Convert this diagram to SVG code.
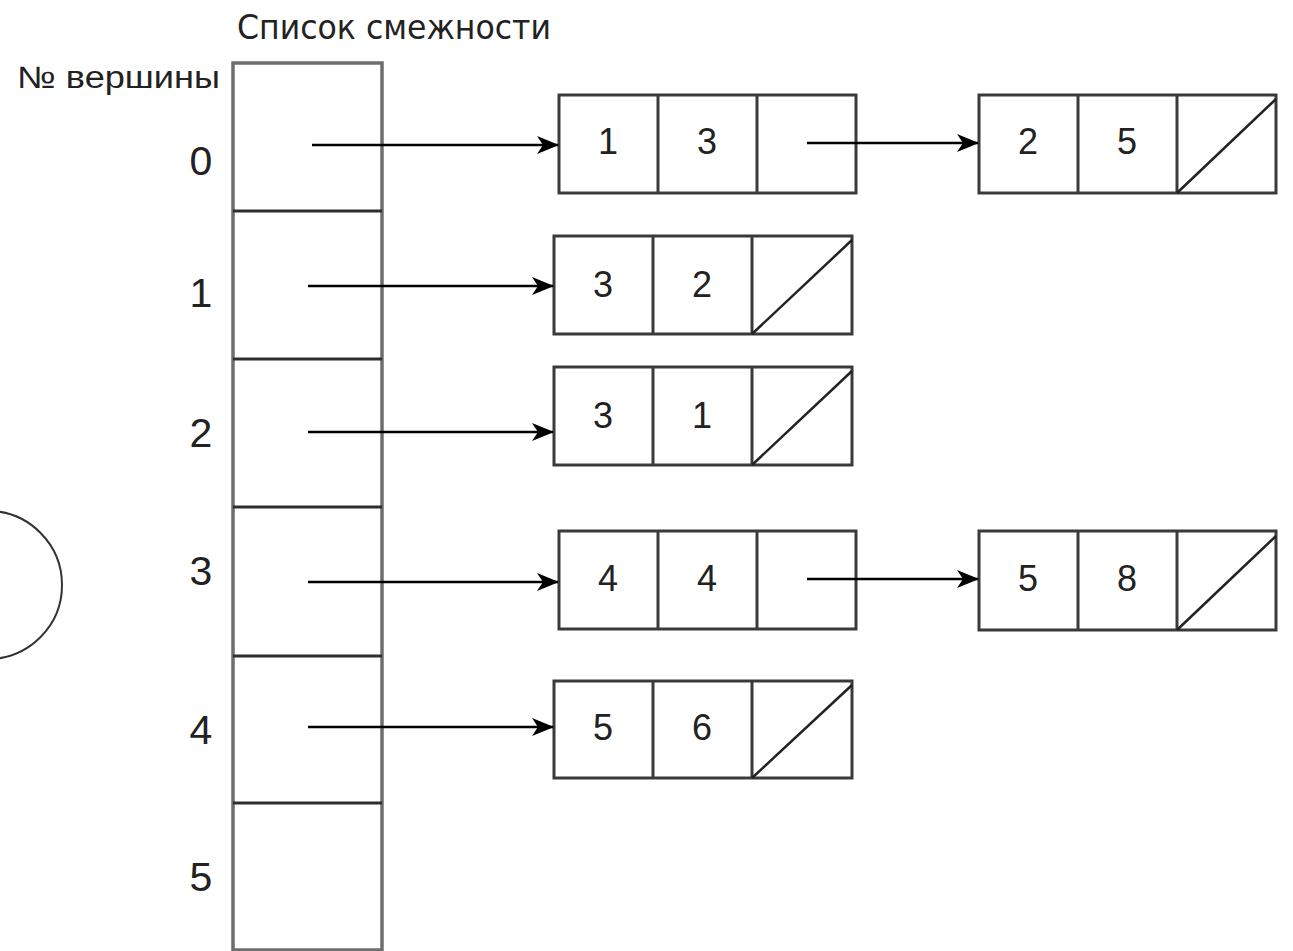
<svg xmlns="http://www.w3.org/2000/svg" width="1293" height="951" viewBox="0 0 1293 951">
<style>
.col{fill:none;stroke:#6e6e6e;stroke-width:3.5}
.div{fill:none;stroke:#2e2e2e;stroke-width:3}
.box{fill:none;stroke:#3a3a3a;stroke-width:3}
.diag{fill:none;stroke:#222;stroke-width:2.5}
.conn{fill:none;stroke:#000;stroke-width:2.5}
.lbl{font-family:"Liberation Sans",Arial,sans-serif;font-size:41px;fill:#222;text-anchor:middle}
.num{font-family:"Liberation Sans",Arial,sans-serif;font-size:36px;fill:#222;text-anchor:middle}
.hdr{font-family:"DejaVu Sans","Liberation Sans",sans-serif;font-size:33px;fill:#222}
.sub{font-family:"Liberation Sans",Arial,sans-serif;font-size:31px;fill:#222}
</style>
<defs>
<marker id="ah" markerUnits="userSpaceOnUse" markerWidth="24" markerHeight="20" refX="21" refY="9" orient="auto">
<path d="M0,0 L22,9 L0,18 L6,9 z" fill="#000"/>
</marker>
</defs>
<rect width="1293" height="951" fill="#fff"/>
<g id="title">
<text class="hdr" x="237" y="39" textLength="314" lengthAdjust="spacingAndGlyphs">Список смежности</text>
<text class="sub" x="17" y="88" textLength="203" lengthAdjust="spacingAndGlyphs">№ вершины</text>
</g>
<g id="circle">
<circle cx="-12" cy="585" r="74" fill="none" stroke="#333" stroke-width="2"/>
</g>
<g id="array">
<rect class="col" x="233" y="63" width="149" height="887"/>
<line class="div" x1="233" y1="211" x2="382" y2="211"/>
<line class="div" x1="233" y1="359" x2="382" y2="359"/>
<line class="div" x1="233" y1="507" x2="382" y2="507"/>
<line class="div" x1="233" y1="656" x2="382" y2="656"/>
<line class="div" x1="233" y1="803" x2="382" y2="803"/>
<text class="lbl" x="201" y="175">0</text>
<text class="lbl" x="201" y="307">1</text>
<text class="lbl" x="201" y="447">2</text>
<text class="lbl" x="201" y="585">3</text>
<text class="lbl" x="201" y="744">4</text>
<text class="lbl" x="201" y="891">5</text>
</g>
<g id="n0a">
<rect class="box" x="559" y="95" width="297" height="98"/>
<line class="box" x1="658" y1="95" x2="658" y2="193"/>
<line class="box" x1="757" y1="95" x2="757" y2="193"/>
<text class="num" x="608" y="154">1</text>
<text class="num" x="707" y="154">3</text>
</g>
<g id="n0b">
<rect class="box" x="979" y="95" width="297" height="98"/>
<line class="box" x1="1078" y1="95" x2="1078" y2="193"/>
<line class="box" x1="1177" y1="95" x2="1177" y2="193"/>
<line class="diag" x1="1177" y1="193" x2="1276" y2="99"/>
<text class="num" x="1028" y="154">2</text>
<text class="num" x="1127" y="154">5</text>
</g>
<g id="n1">
<rect class="box" x="554" y="236" width="298" height="98"/>
<line class="box" x1="653" y1="236" x2="653" y2="334"/>
<line class="box" x1="752" y1="236" x2="752" y2="334"/>
<line class="diag" x1="752" y1="334" x2="852" y2="240"/>
<text class="num" x="603" y="297">3</text>
<text class="num" x="702" y="297">2</text>
</g>
<g id="n2">
<rect class="box" x="554" y="367" width="298" height="98"/>
<line class="box" x1="653" y1="367" x2="653" y2="465"/>
<line class="box" x1="752" y1="367" x2="752" y2="465"/>
<line class="diag" x1="752" y1="465" x2="852" y2="371"/>
<text class="num" x="603" y="428">3</text>
<text class="num" x="702" y="428">1</text>
</g>
<g id="n3a">
<rect class="box" x="559" y="531" width="297" height="98"/>
<line class="box" x1="658" y1="531" x2="658" y2="629"/>
<line class="box" x1="757" y1="531" x2="757" y2="629"/>
<text class="num" x="608" y="591">4</text>
<text class="num" x="707" y="591">4</text>
</g>
<g id="n3b">
<rect class="box" x="979" y="531" width="297" height="99"/>
<line class="box" x1="1078" y1="531" x2="1078" y2="630"/>
<line class="box" x1="1177" y1="531" x2="1177" y2="630"/>
<line class="diag" x1="1177" y1="630" x2="1276" y2="536"/>
<text class="num" x="1028" y="591">5</text>
<text class="num" x="1127" y="591">8</text>
</g>
<g id="n4">
<rect class="box" x="554" y="681" width="298" height="97"/>
<line class="box" x1="653" y1="681" x2="653" y2="778"/>
<line class="box" x1="752" y1="681" x2="752" y2="778"/>
<line class="diag" x1="752" y1="778" x2="852" y2="685"/>
<text class="num" x="603" y="740">5</text>
<text class="num" x="702" y="740">6</text>
</g>
<g id="connectors">
<line class="conn" x1="312" y1="145" x2="558" y2="145" marker-end="url(#ah)"/>
<line class="conn" x1="807" y1="143" x2="978" y2="143" marker-end="url(#ah)"/>
<line class="conn" x1="308" y1="286" x2="553" y2="286" marker-end="url(#ah)"/>
<line class="conn" x1="308" y1="432" x2="553" y2="432" marker-end="url(#ah)"/>
<line class="conn" x1="308" y1="582" x2="558" y2="582" marker-end="url(#ah)"/>
<line class="conn" x1="807" y1="579" x2="978" y2="579" marker-end="url(#ah)"/>
<line class="conn" x1="308" y1="727" x2="553" y2="727" marker-end="url(#ah)"/>
</g>
</svg>
